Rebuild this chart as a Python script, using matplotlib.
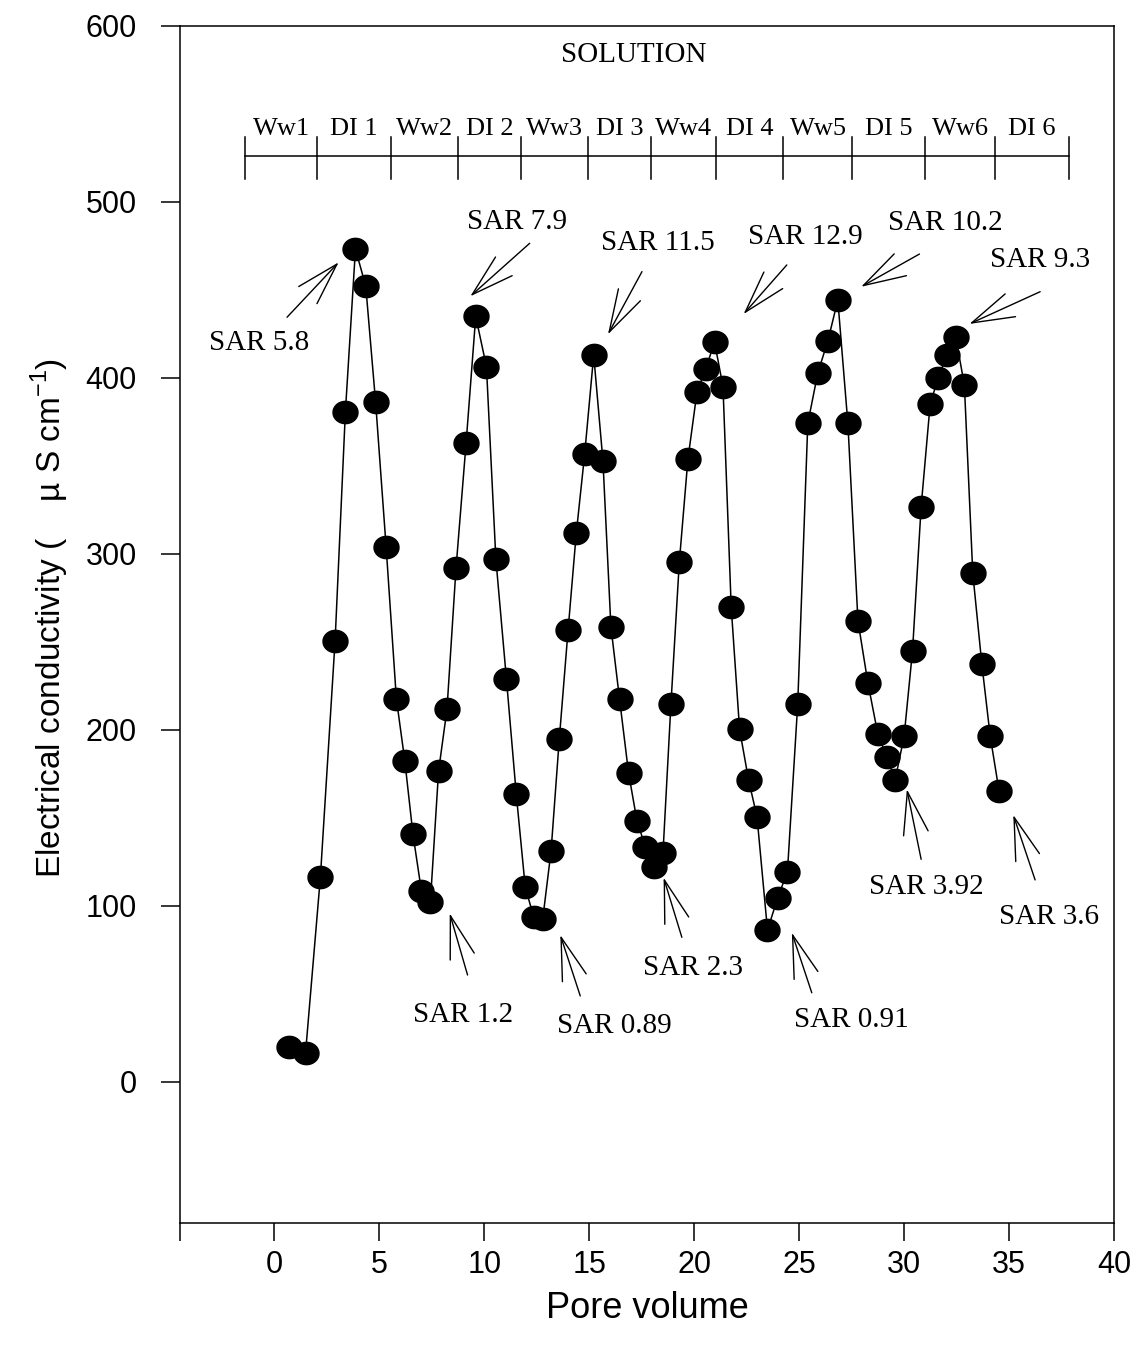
import numpy as np
import matplotlib
matplotlib.use('Agg')
import matplotlib.pyplot as plt

plt.rcParams['font.family'] = ['Liberation Sans', 'DejaVu Sans']
plt.rcParams['mathtext.fontset'] = 'custom'
plt.rcParams['mathtext.rm'] = 'Liberation Sans'

# datos
pore_volume = [0.68, 1.48, 2.19, 2.89, 3.38, 3.86, 4.35, 4.82, 5.32, 5.81,
               6.21, 6.60, 7.00, 7.43, 7.82, 8.22, 8.65, 9.13, 9.59, 10.10,
               10.55, 11.05, 11.52, 11.95, 12.35, 12.78, 13.18, 13.57, 13.99, 14.38,
               14.78, 15.21, 15.65, 16.03, 16.44, 16.87, 17.27, 17.67, 18.06, 18.51,
               18.89, 19.29, 19.70, 20.13, 20.54, 20.97, 21.37, 21.76, 22.16, 22.59,
               22.99, 23.49, 23.97, 24.44, 24.93, 25.41, 25.89, 26.37, 26.84, 27.32,
               27.80, 28.27, 28.75, 29.18, 29.57, 30.00, 30.40, 30.81, 31.24, 31.63,
               32.03, 32.46, 32.87, 33.27, 33.70, 34.10, 34.52]
ec = [19.6, 16.2, 116.5, 250.6, 380.6, 473.0, 452.0, 386.0, 304.0, 217.5,
      182.4, 140.6, 108.6, 102.3, 176.6, 211.6, 291.7, 362.7, 434.8, 406.2,
      296.8, 229.1, 163.5, 110.5, 93.8, 92.3, 131.3, 194.6, 256.6, 311.6,
      356.6, 412.8, 352.8, 258.5, 217.5, 175.6, 148.3, 133.6, 122.2, 129.8,
      214.6, 295.4, 353.8, 391.7, 404.9, 420.1, 394.8, 269.9, 200.2, 171.4,
      150.6, 86.2, 104.3, 119.4, 214.5, 374.0, 402.8, 421.0, 444.1, 374.0,
      261.8, 226.8, 197.4, 184.3, 171.4, 196.4, 245.0, 326.7, 385.0, 400.0,
      412.8, 422.9, 395.8, 288.9, 237.5, 196.4, 165.4]

solution_names = ['Ww1', 'DI 1', 'Ww2', 'DI 2', 'Ww3', 'DI 3',
                  'Ww4', 'DI 4', 'Ww5', 'DI 5', 'Ww6', 'DI 6']
solution_bounds = [-1.41, 2.05, 5.54, 8.73, 11.75, 14.93, 17.95,
                   21.05, 24.25, 27.54, 31.01, 34.33, 37.87]

sar_labels = ['SAR 5.8', 'SAR 7.9', 'SAR 11.5', 'SAR 12.9', 'SAR 10.2', 'SAR 9.3',
              'SAR 1.2', 'SAR 0.89', 'SAR 2.3', 'SAR 0.91', 'SAR 3.92', 'SAR 3.6']
sar_text = [(-0.71, 419.9), (11.57, 488.4), (18.26, 476.5), (25.29, 479.9),
            (31.95, 487.8), (36.48, 466.8), (9.0, 38.0), (16.21, 31.7),
            (19.95, 64.7), (27.51, 35.1), (31.08, 110.7), (36.92, 93.6)]
sar_tip = [(3.06, 465.5), (9.33, 446.2), (15.89, 424.6), (22.35, 436.1),
           (27.95, 451.6), (33.11, 430.5), (8.35, 95.7), (13.62, 83.4),
           (18.54, 116.0), (24.65, 84.7), (30.13, 166.2), (35.2, 151.6)]
sar_tail = [(0.60, 434.3), (12.16, 476.3), (17.51, 460.2), (24.41, 464.0),
            (30.73, 470.2), (36.48, 448.8), (9.20, 60.7), (14.57, 48.8),
            (19.41, 82.1), (25.6, 50.6), (30.81, 126.4), (36.24, 114.7)]

fig = plt.figure(figsize=(11.37, 13.5), dpi=100)
ax = fig.add_axes([0.1583, 0.0943, 0.8215, 0.8868])

# marcador eliptico (un poco mas ancho que alto)
t = np.linspace(0, 2 * np.pi, 60)
elipse = np.column_stack([1.12 * np.cos(t), np.sin(t)])

ax.plot(pore_volume, ec, color='black', lw=1.1, marker=elipse,
        markersize=18, markerfacecolor='black', markeredgecolor='black', zorder=3)

ax.set_xlim(-4.5, 40)
ax.set_ylim(-80, 600)

# barra de soluciones
bar_y = 525.9
ax.plot([solution_bounds[0], solution_bounds[-1]], [bar_y, bar_y], color='black', lw=1.1)
for b in solution_bounds:
    ax.plot([b, b], [bar_y - 13, bar_y + 11], color='black', lw=1.1)
for i, nombre in enumerate(solution_names):
    xm = (solution_bounds[i] + solution_bounds[i + 1]) / 2
    ax.text(xm, bar_y + 9, nombre, ha='center', va='bottom',
            fontsize=19, family='Liberation Serif')
ax.text(17.1, 583.2, 'SOLUTION', ha='center', va='center',
        fontsize=21, family='Liberation Serif')

# flechas SAR
for lab, txy, tip, tail in zip(sar_labels, sar_text, sar_tip, sar_tail):
    ax.annotate('', xy=tip, xytext=tail,
                arrowprops=dict(arrowstyle='->, head_length=1.7, head_width=0.5',
                                color='black', lw=1.0, shrinkA=0, shrinkB=0,
                                mutation_scale=18))
    ax.text(txy[0], txy[1], lab, ha='center', va='center',
            fontsize=21, family='Liberation Serif')

ax.set_xticks([-4.5, 0, 5, 10, 15, 20, 25, 30, 35, 40])
ax.set_xticklabels(['', '0', '5', '10', '15', '20', '25', '30', '35', '40'])
ax.set_yticks([0, 100, 200, 300, 400, 500, 600])
ax.tick_params(axis='x', direction='out', length=13, width=1.1, pad=7, labelsize=22)
ax.tick_params(axis='y', direction='out', length=14, width=1.1, pad=17, labelsize=22)
for s in ax.spines.values():
    s.set_linewidth(1.1)

ax.set_xlabel('Pore volume', fontsize=26)
ax.xaxis.set_label_coords(0.5, -0.072)
ax.xaxis.label.set_va('center')
ax.set_ylabel('Electrical conductivity (    µ S cm$^{\\mathregular{-1}}$)', fontsize=24)
ax.yaxis.set_label_coords(-0.139, 0.505)
ax.yaxis.label.set_va('center')

fig.savefig('out.png', dpi=100)
